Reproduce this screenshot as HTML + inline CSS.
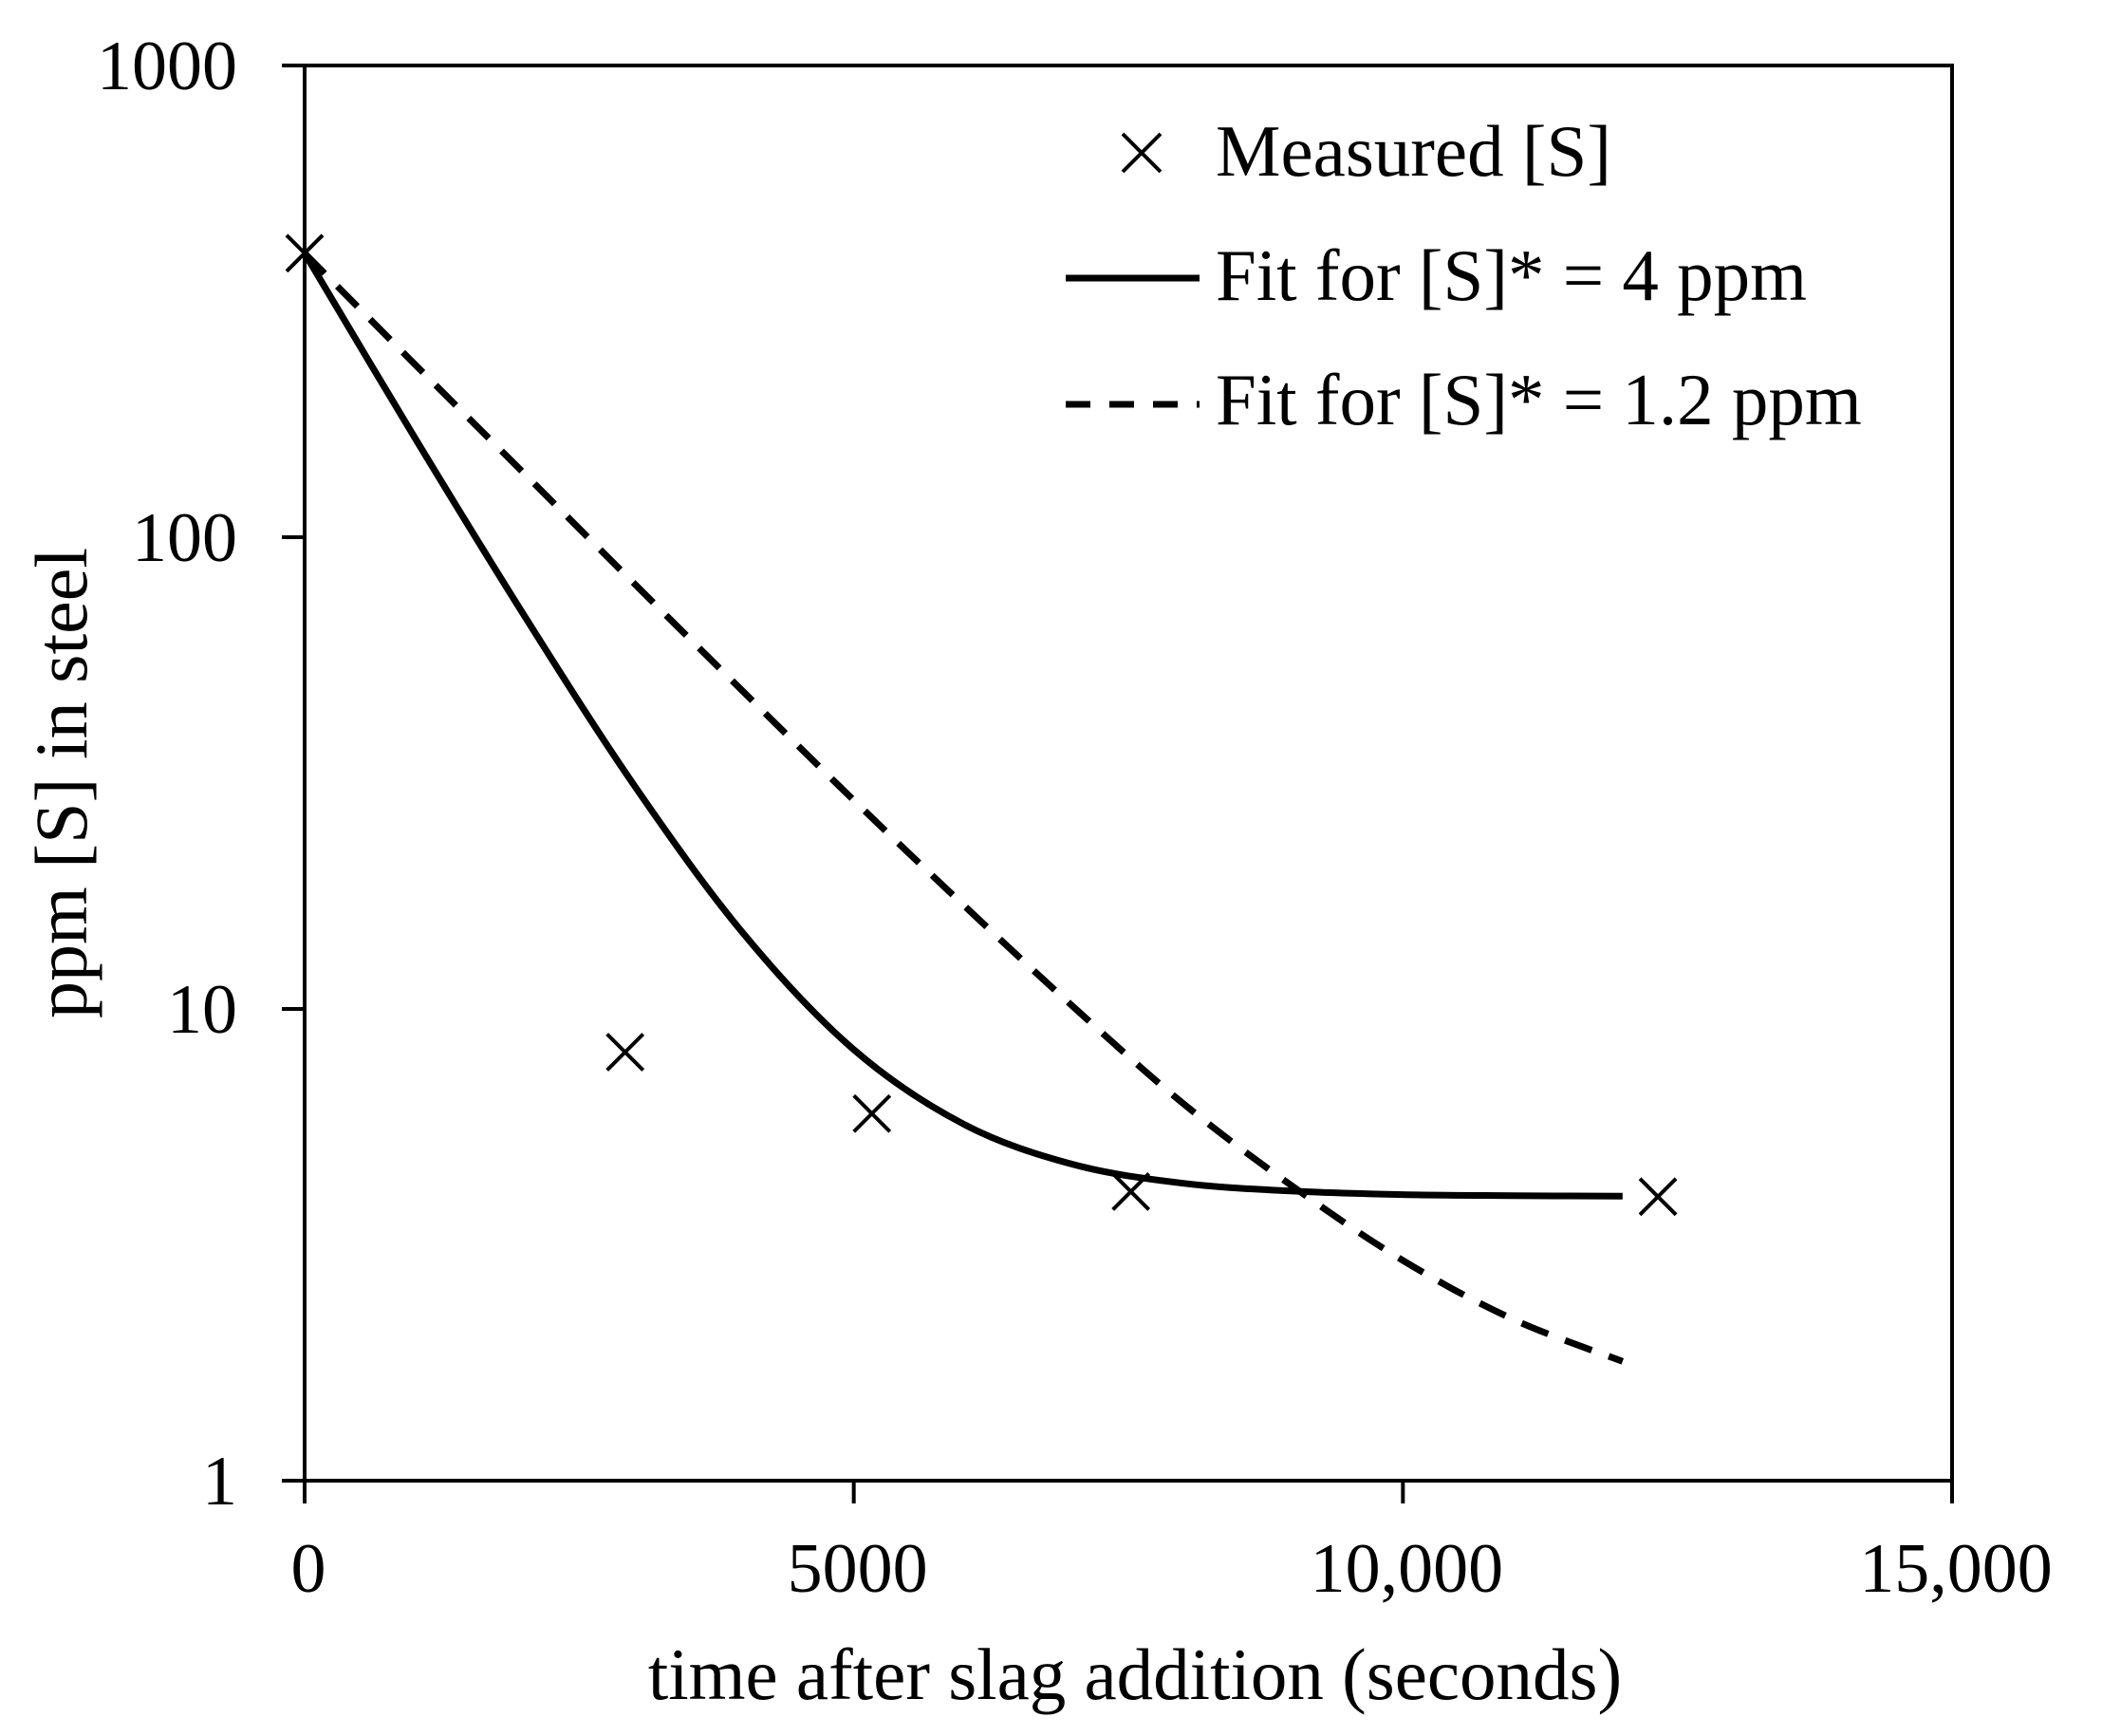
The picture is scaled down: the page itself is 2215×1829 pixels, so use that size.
<!DOCTYPE html>
<html><head><meta charset="utf-8"><style>
html,body{margin:0;padding:0;background:#fff;}
svg{display:block;}
text{font-family:"Liberation Serif",serif;fill:#000;}
</style></head><body>
<svg id="chart" width="2215" height="1829" viewBox="0 0 2215 1829" xmlns="http://www.w3.org/2000/svg">
<rect width="2215" height="1829" fill="#fff"/>
<g id="axes"></g>
<g id="series"></g>
<g id="legend">
  <g>
    <path d="M1183 141 L1223 181 M1223 141 L1183 181" stroke="#000" stroke-width="4" fill="none"/>
    <text x="1281" y="185" font-size="77">Measured [S]</text>
  </g>
  <g>
    <line x1="1123" y1="293" x2="1264" y2="293" stroke="#000" stroke-width="7"/>
    <text x="1281" y="316" font-size="77">Fit for [S]* = 4 ppm</text>
  </g>
  <g>
    <line x1="1123" y1="426" x2="1264" y2="426" stroke="#000" stroke-width="7" stroke-dasharray="26,20"/>
    <text x="1281" y="447" font-size="77">Fit for [S]* = 1.2 ppm</text>
  </g>
</g>
<text x="1196" y="1790" font-size="77" text-anchor="middle">time after slag addition (seconds)</text>
<text x="0" y="0" font-size="78" text-anchor="middle" transform="translate(91,825) rotate(-90)">ppm [S] in steel</text>
</svg>
<script>
const xTicks = [0, 5000, 10000, 15000];
const xTickLabels = ["0", "5000", "10,000", "15,000"];
const yTicks = [1, 10, 100, 1000];
const yTickLabels = ["1", "10", "100", "1000"];
const measuredT = [0, 2918, 5165, 7523, 12322];
const measuredS = [400, 8.1, 6.0, 4.1, 4.0];
const fitT = [0, 1000, 2000, 3000, 4000, 5000, 6000, 7000, 8000, 9000, 10000, 11000, 12000];
const fit4 = [400, 163, 68.2, 29.8, 14.4, 8.2, 5.7, 4.68, 4.27, 4.11, 4.04, 4.02, 4.01];
const fit12 = [400, 233, 136.4, 79.8, 46.9, 27.7, 16.6, 10.1, 6.3, 4.2, 2.93, 2.2, 1.79];

const L = 321, R = 2057, T = 69, B = 1560;
const NS = 'http://www.w3.org/2000/svg';
function xs(v){ return L + (v - 0) / 15000 * (R - L); }
function ys(v){ return B - (Math.log10(v) - 0) / 3 * (B - T); }
function mk(tag, attrs, parent){
  const e = document.createElementNS(NS, tag);
  for (const k in attrs) e.setAttribute(k, attrs[k]);
  parent.appendChild(e); return e;
}
const axes = document.getElementById('axes');
const series = document.getElementById('series');

const frame = mk('rect', {x:L, y:T, width:R-L, height:B-T, fill:'none', stroke:'#000', 'stroke-width':4}, axes);



xTicks.forEach((v, i) => {
  const t = mk('line', {x1:xs(v), x2:xs(v), y1:B, y2:B+24, stroke:'#000', 'stroke-width':4}, axes);
  
  
  const lb = mk('text', {x:xs(v)+4, y:1677, 'font-size':74, 'text-anchor':'middle'}, axes);
  lb.textContent = xTickLabels[i];
  
  
});
yTicks.forEach((v, i) => {
  const t = mk('line', {x1:L-24, x2:L, y1:ys(v), y2:ys(v), stroke:'#000', 'stroke-width':4}, axes);
  
  
  const lb = mk('text', {x:250, y:ys(v)+25, 'font-size':74, 'text-anchor':'end'}, axes);
  lb.textContent = yTickLabels[i];
  
  
});

function smoothPath(tArr, sArr){
  const p = tArr.map((t, i) => [xs(t), ys(sArr[i])]);
  let d = 'M' + p[0][0] + ' ' + p[0][1];
  for (let i = 0; i < p.length - 1; i++){
    const p0 = p[i-1] || p[i], p1 = p[i], p2 = p[i+1], p3 = p[i+2] || p2;
    const c1 = [p1[0] + (p2[0]-p0[0])/6, p1[1] + (p2[1]-p0[1])/6];
    const c2 = [p2[0] - (p3[0]-p1[0])/6, p2[1] - (p3[1]-p1[1])/6];
    d += ' C' + c1.join(' ') + ' ' + c2.join(' ') + ' ' + p2.join(' ');
  }
  return d;
}
const l1 = mk('path', {d:smoothPath(fitT, fit4), fill:'none', stroke:'#000', 'stroke-width':7}, series);


const l2 = mk('path', {d:smoothPath(fitT, fit12), fill:'none', stroke:'#000', 'stroke-width':7, 'stroke-dasharray':'30,19'}, series);



measuredT.forEach((t, i) => {
  const x = xs(t), y = ys(measuredS[i]), s = 19;
  const m = mk('path', {d:`M${x-s} ${y-s} L${x+s} ${y+s} M${x+s} ${y-s} L${x-s} ${y+s}`, stroke:'#000', 'stroke-width':4, fill:'none'}, series);
  
  
});
</script>
</body></html>
